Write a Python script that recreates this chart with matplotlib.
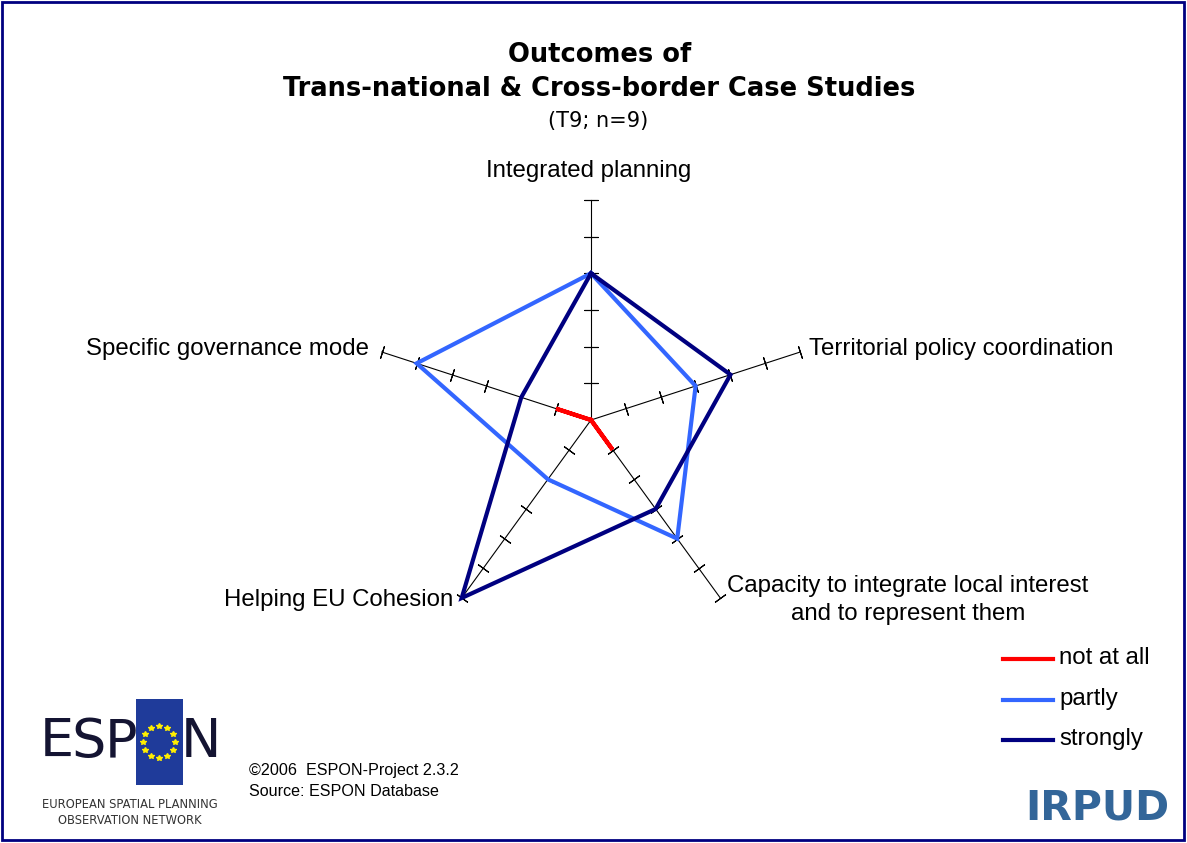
import numpy as np
import matplotlib.pyplot as plt
from matplotlib.patches import Rectangle

W, H = 1187, 843

categories = ["Integrated planning", "Territorial policy coordination",
              "Capacity to integrate local interest\nand to represent them",
              "Helping EU Cohesion", "Specific governance mode"]
not_at_all = [0, 0, 1, 0, 1]
partly = [4, 3, 4, 2, 5]
strongly = [4, 4, 3, 6, 2]
series = [("not at all", not_at_all, "#ff0000"),
          ("partly", partly, "#3366ff"),
          ("strongly", strongly, "#000080")]
r_ticks = [1, 2, 3, 4, 5, 6]


def fx(x):
    return x / W


def fy(y):
    return 1 - y / H


fig = plt.figure(figsize=(W / 100, H / 100), dpi=100)
fig.patch.set_facecolor("white")

# radar in a polar axes: centre (591, 420), radius 220 px
cx, cy, rad = 591, 420, 220
ax = fig.add_axes([fx(cx - rad), fy(cy + rad), 2 * rad / W, 2 * rad / H],
                  projection="polar")
ax.set_theta_offset(np.pi / 2)
ax.set_theta_direction(-1)
ax.set_ylim(0, 6)
ax.set_axis_off()

n = len(categories)
theta = np.arange(n) * 2 * np.pi / n

for t in theta:
    ax.plot([t, t], [0, 6], color="black", lw=0.8, clip_on=False, zorder=1)
    phi = 90 - np.degrees(t)
    ax.plot([t] * len(r_ticks), r_ticks, ls="none", marker=(2, 2, phi),
            ms=9.5, mew=0.8, color="black", clip_on=False, zorder=1)

tt = np.append(theta, theta[0])
for name, vals, col in series:
    vv = np.append(vals, vals[0])
    ax.plot(tt, vv, color=col, lw=3, clip_on=False, zorder=3,
            solid_joinstyle="miter")

# titles
fig.text(fx(600), fy(55), "Outcomes of", ha="center", va="center",
         fontsize=18.5, fontweight="bold", family="DejaVu Sans")
fig.text(fx(599), fy(89), "Trans-national & Cross-border Case Studies",
         ha="center", va="center", fontsize=18.5, fontweight="bold",
         family="DejaVu Sans")
fig.text(fx(598), fy(121), "(T9; n=9)", ha="center", va="center",
         fontsize=15, family="DejaVu Sans")

# category labels
lab_font = dict(fontsize=17.3, family="Liberation Sans", va="center")
fig.text(fx(589), fy(171), categories[0], ha="center", **lab_font)
fig.text(fx(809), fy(349), categories[1], ha="left", **lab_font)
fig.text(fx(908), fy(600), categories[2], ha="center", linespacing=1.3,
         **lab_font)
fig.text(fx(453), fy(600), categories[3], ha="right", **lab_font)
fig.text(fx(369), fy(349), categories[4], ha="right", **lab_font)

# legend
for i, (name, vals, col) in enumerate(series):
    y = 659 + i * 40.5
    fig.add_artist(plt.Line2D([fx(1003), fx(1053)], [fy(y), fy(y)],
                              color=col, lw=3))
    fig.text(fx(1059), fy(y - 1), name, ha="left", va="center",
             fontsize=17.3, family="Liberation Sans")

# footer
fig.text(fx(249), fy(771), "\u00a92006  ESPON-Project 2.3.2", ha="left",
         va="center", fontsize=11.6, family="Liberation Sans")
fig.text(fx(249), fy(791), "Source: ESPON Database", ha="left",
         va="center", fontsize=11.6, family="Liberation Sans")

# ESPON logo
fig.add_artist(Rectangle((fx(136), fy(785)), 47 / W, 86 / H,
                         transform=fig.transFigure, facecolor="#1f3b9a",
                         edgecolor="none"))
ang = np.arange(12) * 2 * np.pi / 12
fig.add_artist(plt.Line2D(fx(159 + 16 * np.cos(ang)),
                          fy(742 + 16 * np.sin(ang)), ls="none", marker="*",
                          ms=4, color="#ffee00", transform=fig.transFigure))
for ch, x in [("E", 57), ("S", 89), ("P", 121), ("N", 201)]:
    fig.text(fx(x), fy(742), ch, ha="center", va="center", fontsize=39,
             color="#141432", family=["Liberation Sans Narrow", "DejaVu Sans"])
fig.text(fx(130), fy(805), "EUROPEAN SPATIAL PLANNING", ha="center",
         va="center", fontsize=8.3, color="#333333",
         family=["Liberation Sans Narrow", "DejaVu Sans"])
fig.text(fx(130), fy(820), "OBSERVATION NETWORK", ha="center",
         va="center", fontsize=8.3, color="#333333",
         family=["Liberation Sans Narrow", "DejaVu Sans"])

# IRPUD logo
fig.text(fx(1097), fy(808), "IRPUD", ha="center", va="center",
         fontsize=29.5, fontweight="bold", color="#336699",
         family="DejaVu Sans")

# frame
fig.add_artist(Rectangle((fx(2), fy(840)), 1182 / W, 838 / H,
                         transform=fig.transFigure, fill=False,
                         edgecolor="#000080", lw=2))

fig.savefig("out.png", dpi=100)
